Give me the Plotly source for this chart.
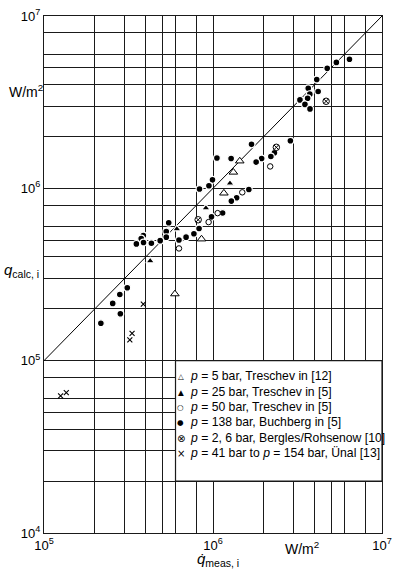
import plotly.graph_objects as go

# ---------------- data (W/m^2) ----------------
buch_x = [6.42e6, 5.37e6, 4.74e6, 4.11e6, 3.66e6, 4.19e6, 3.74e6, 3.63e6, 3.27e6, 3.50e6,
          3.75e6, 2.87e6, 1.69e6, 2.31e6, 2.20e6, 1.94e6, 1.80e6, 1.055e6, 1.28e6, 0.993e6,
          0.946e6, 0.832e6, 1.63e6, 1.38e6, 1.284e6, 1.14e6, 0.98e6, 5.47e5, 5.29e5, 8.27e5,
          7.71e5, 6.93e5, 6.29e5, 5.29e5, 4.87e5, 4.32e5, 3.87e5, 3.76e5, 3.88e5, 3.52e5,
          3.11e5, 2.81e5, 2.55e5, 2.83e5, 2.17e5]
buch_y = [5.61e6, 5.38e6, 4.97e6, 4.28e6, 3.81e6, 3.65e6, 3.52e6, 3.33e6, 3.26e6, 3.07e6,
          2.89e6, 1.89e6, 1.80e6, 1.61e6, 1.53e6, 1.49e6, 1.42e6, 1.50e6, 1.49e6, 1.12e6,
          1.035e6, 0.991e6, 0.985e6, 0.882e6, 0.843e6, 0.719e6, 0.683e6, 6.31e5, 5.62e5, 5.85e5,
          5.45e5, 5.21e5, 5.01e5, 5.21e5, 4.97e5, 4.80e5, 5.33e5, 5.11e5, 4.85e5, 4.76e5,
          2.65e5, 2.42e5, 2.15e5, 1.87e5, 1.65e5]

tre5_x = [1.44e6, 1.32e6, 1.16e6, 8.55e5, 5.95e5]
tre5_y = [1.44e6, 1.24e6, 0.938e6, 5.08e5, 2.44e5]

tre25_x = [1.26e6, 9.08e5, 6.11e5, 4.25e5]
tre25_y = [1.07e6, 7.68e5, 5.81e5, 3.79e5]

tre50_x = [2.18e6, 1.49e6, 1.065e6, 9.42e5, 6.29e5]
tre50_y = [1.34e6, 0.948e6, 7.18e5, 6.37e5, 4.48e5]

berg_x = [2.37e6, 4.67e6, 8.17e5]
berg_y = [1.73e6, 3.20e6, 6.57e5]

unal_x = [3.87e5, 3.32e5, 3.22e5, 1.254e5, 1.355e5]
unal_y = [2.13e5, 1.44e5, 1.32e5, 6.25e4, 6.52e4]

diag = [1e5, 1e7]

grid_mult = [2, 3, 4, 5, 6, 8]
x_decades = [5, 6, 7]
y_decades = [4, 5, 6, 7]

legend_labels = [
    "<i>p</i> = 5 bar, Treschev in [12]",
    "<i>p</i> = 25 bar, Treschev in [5]",
    "<i>p</i> = 50 bar, Treschev in [5]",
    "<i>p</i> = 138 bar, Buchberg in [5]",
    "<i>p</i> = 2, 6 bar, Bergles/Rohsenow [10]",
    "<i>p</i> = 41 bar to <i>p</i> = 154 bar, Ünal [13]",
]
legend_symbols = ["△", "▲", "○", "●", "⊗", "×"]

FONT = "Liberation Sans, Arial, Helvetica, sans-serif"


def major(decades):
    return [10 ** d for d in decades], ["10<sup>%d</sup>" % d for d in decades]


def minor(decades):
    return [m * 10 ** d for d in decades[:-1] for m in grid_mult]


xv, xt = major(x_decades)
yv, yt = major(y_decades)

fig = go.Figure()

fig.add_trace(go.Scatter(x=diag, y=diag, mode="lines",
                         line=dict(color="black", width=1), hoverinfo="skip"))

halo = dict(color="white", width=1.2)
fig.add_trace(go.Scatter(x=buch_x, y=buch_y, mode="markers",
                         marker=dict(symbol="circle", size=6.8, color="black", line=halo)))
fig.add_trace(go.Scatter(x=tre5_x, y=tre5_y, mode="markers",
                         marker=dict(symbol="triangle-up", size=7.5, color="white",
                                     line=dict(color="black", width=1))))
fig.add_trace(go.Scatter(x=tre25_x, y=tre25_y, mode="markers",
                         marker=dict(symbol="triangle-up", size=7.5, color="black", line=halo)))
fig.add_trace(go.Scatter(x=tre50_x, y=tre50_y, mode="markers",
                         marker=dict(symbol="circle", size=5.5, color="white",
                                     line=dict(color="black", width=1))))
fig.add_trace(go.Scatter(x=berg_x, y=berg_y, mode="markers",
                         marker=dict(symbol="circle-x", size=6.5, color="white",
                                     line=dict(color="black", width=1))))
fig.add_trace(go.Scatter(x=unal_x, y=unal_y, mode="markers",
                         marker=dict(symbol="x-thin-open", size=5, color="black",
                                     line=dict(color="black", width=1.1))))

GRID = "#1a1a1a"
axis_common = dict(type="log", showgrid=True, gridcolor=GRID, gridwidth=1.2,
                   showline=True, linecolor=GRID, linewidth=1.2, mirror=True,
                   ticks="", zeroline=False, tickmode="array",
                   ticklabeloverflow="allow",
                   tickfont=dict(family=FONT, size=13, color="black"))

fig.update_xaxes(range=[5, 7], tickvals=xv, ticktext=xt,
                 minor=dict(tickmode="array", tickvals=minor(x_decades), showgrid=True,
                            gridcolor=GRID, gridwidth=1.2, ticks=""),
                 **axis_common)
fig.update_yaxes(range=[4, 7], tickvals=yv, ticktext=yt,
                 minor=dict(tickmode="array", tickvals=minor(y_decades), showgrid=True,
                            gridcolor=GRID, gridwidth=1.2, ticks=""),
                 **axis_common)

# legend box (covers grid between 6e5..1e7 and 2e4..1e5)
fig.add_shape(type="rect", xref="x", yref="y", x0=6e5, x1=1e7, y0=2e4, y1=1e5,
              fillcolor="white", line=dict(color=GRID, width=1.2), layer="above")

L, R, T, B = 44, 10, 7, 41
W, H = 399, 574
pw, ph = W - L - R, H - T - B


def px2paper(px, py):
    return (px - L) / pw, (H - B - py) / ph


annotations = []
for i, (sym, lab) in enumerate(zip(legend_symbols, legend_labels)):
    py = 373.5 + 15.6 * i
    sx, sy = px2paper(183.5, py + 0.5)
    tx, ty = px2paper(191, py)
    sym_size = 7.5 if sym in ("△", "▲", "○", "●") else 10
    annotations.append(dict(xref="paper", yref="paper", x=sx, y=sy, text=sym,
                            showarrow=False, xanchor="center", yanchor="middle",
                            font=dict(family="DejaVu Sans", size=sym_size, color="black")))
    annotations.append(dict(xref="paper", yref="paper", x=tx, y=ty, text=lab,
                            showarrow=False, xanchor="left", yanchor="middle",
                            font=dict(family=FONT, size=12.2, color="black")))

# unit labels
ux, uy = px2paper(45, 83)
annotations.append(dict(xref="paper", yref="paper", x=ux, y=uy, text="W/m<sup>2</sup>",
                        showarrow=False, xanchor="right", yanchor="middle",
                        font=dict(family=FONT, size=14, color="black")))
ux2, uy2 = px2paper(307.5, 548)
annotations.append(dict(xref="paper", yref="paper", x=ux2, y=uy2, text="W/m<sup>2</sup>",
                        showarrow=False, xanchor="center", yanchor="middle",
                        font=dict(family=FONT, size=14, color="black")))
# axis titles
qx, qy = px2paper(1, 266)
annotations.append(dict(xref="paper", yref="paper", x=qx, y=qy,
                        text="<i>q</i><sub>calc, i</sub>",
                        showarrow=False, xanchor="left", yanchor="middle",
                        font=dict(family=FONT, size=15, color="black")))
mx, my = px2paper(198, 560)
annotations.append(dict(xref="paper", yref="paper", x=mx, y=my,
                        text="<i>q\u0307</i><sub>meas, i</sub>",
                        showarrow=False, xanchor="left", yanchor="middle",
                        font=dict(family=FONT, size=15, color="black")))

fig.update_layout(width=W, height=H, margin=dict(l=L, r=R, t=T, b=B, pad=0),
                  paper_bgcolor="white", plot_bgcolor="white", showlegend=False,
                  annotations=annotations, font=dict(family=FONT, color="black"))

fig.write_html("out.html", config={"displayModeBar": False},
               post_script="document.body.style.margin='0px';")
